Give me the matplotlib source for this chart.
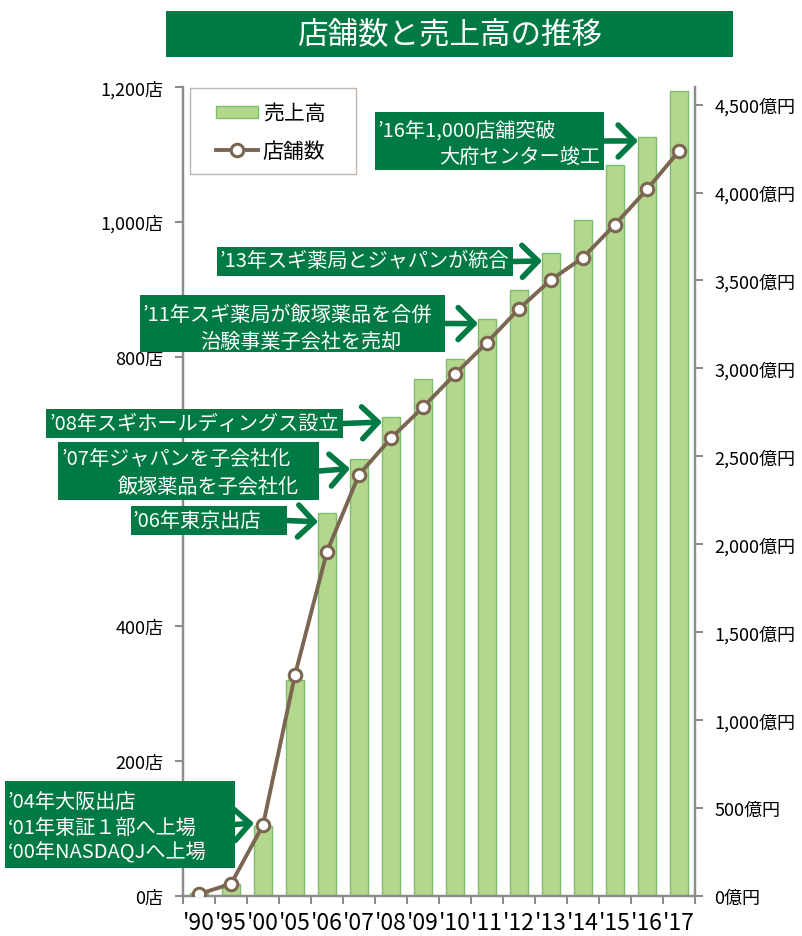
import matplotlib
matplotlib.use('Agg')
import matplotlib.pyplot as plt
from matplotlib.patches import Rectangle, Patch
from matplotlib.lines import Line2D

plt.rcParams['font.family'] = ['Noto Sans CJK JP', 'DejaVu Sans']

W, H = 803, 937
GREEN = '#007A45'
BAR = '#B3D78C'
BAR_EDGE = '#7DBE6E'
LINE = '#7B6651'
AXIS = '#8C8C8C'

# data
years = ["'90", "'95", "'00", "'05", "'06", "'07", "'08", "'09",
         "'10", "'11", "'12", "'13", "'14", "'15", "'16", "'17"]
stores = [3, 18, 105, 328, 511, 625, 679, 725, 774, 821, 871, 914, 947, 996, 1048, 1105]
sales = [15, 68, 397, 1231, 2177, 2484, 2724, 2940, 3054, 3278, 3443, 3658, 3844, 4158, 4317, 4579]

store_ticks = [0, 200, 400, 600, 800, 1000, 1200]
# the 600 label sits behind the '07 box in the original
store_labels = ['0店', '200店', '400店', '', '800店', '1,000店', '1,200店']
sales_ticks = [0, 500, 1000, 1500, 2000, 2500, 3000, 3500, 4000, 4500]

# event boxes: lines (text, left x, centre y) in pixels, box (x0, y0, x1, y1), target (category, stores)
events = [
    ([('’16年1,000店舗突破', 378, 131), ('大府センター竣工', 439, 158)], (375, 113, 604, 171), (14, 1120)),
    ([('’13年スギ薬局とジャパンが統合', 228, 262)], (225, 248, 513, 277), (11, 942)),
    ([('’11年スギ薬局が飯塚薬品を合併', 143, 315), ('治験事業子会社を売却', 200, 342)], (140, 296, 445, 353), (9, 849)),
    ([('’08年スギホールディングス設立', 85, 425)], (82, 410, 343, 439), (6, 703)),
    ([('’07年ジャパンを子会社化', 62, 460), ('飯塚薬品を子会社化', 118, 487)], (58, 443, 319, 501), (5, 634)),
    ([('’06年東京出店', 133, 522)], (131, 507, 287, 536), (4, 555)),
    ([('’04年大阪出店', 8, 802), ('‘01年東証１部へ上場', 8, 828), ('‘00年NASDAQJへ上場', 8, 853)], (5, 782, 235, 869), (2, 108)),
]

fig = plt.figure(figsize=(W / 100, H / 100), dpi=100)
ax = fig.add_axes([183 / W, 1 - 897 / H, 512 / W, 809 / H])
ax2 = ax.twinx()
ax.set_zorder(ax2.get_zorder() + 1)
ax.patch.set_visible(False)

x = list(range(len(years)))
ax2.bar(x, sales, width=0.56, color=BAR, edgecolor=BAR_EDGE, linewidth=1)
ax.plot(x, stores, color=LINE, lw=2.8, marker='o', ms=9, mfc='white',
        mec=LINE, mew=2.2, zorder=4)

ax.set_xlim(-0.5, len(years) - 0.5)
ax.set_ylim(0, 1200)
ax2.set_ylim(0, 4600)

for a in (ax, ax2):
    a.spines['top'].set_visible(False)
    for s in ('left', 'right', 'bottom'):
        a.spines[s].set_color(AXIS)
        a.spines[s].set_linewidth(1.6)

ax.set_xticks(x, years)
ax.set_xticks([i - 0.5 for i in range(len(years) + 1)], minor=True)
ax.tick_params(axis='x', which='major', length=0, pad=11, labelsize=16.5)
ax.tick_params(axis='x', which='minor', length=6, width=1.5, color=AXIS)

ax.set_yticks(store_ticks, store_labels)
ax.tick_params(axis='y', length=6, width=1.5, color=AXIS, labelsize=13, pad=8)
ax2.set_yticks(sales_ticks, [f'{v:,}億円' for v in sales_ticks])
ax2.tick_params(axis='y', length=6, width=1.5, color=AXIS, labelsize=13, pad=8)


def fig_rect(x0, y0, x1, y1, **kw):
    r = Rectangle((x0 / W, 1 - y1 / H), (x1 - x0) / W, (y1 - y0) / H,
                  transform=fig.transFigure, **kw)
    fig.add_artist(r)
    return r


# title
fig_rect(166, 12, 733, 58, facecolor=GREEN, edgecolor='none', zorder=5)
fig.text(449.5 / W, 1 - 35 / H, '店舗数と売上高の推移', color='white', fontsize=22,
         ha='center', va='center', zorder=6)

# legend
fig_rect(190, 89, 356, 175, facecolor='none', edgecolor='#BEB6AE', lw=1, zorder=5)
handles = [Patch(facecolor=BAR, edgecolor=BAR_EDGE, lw=1),
           Line2D([], [], color=LINE, lw=2.8, marker='o', ms=9, mfc='white', mec=LINE, mew=2.2)]
ax.legend(handles, ['売上高', '店舗数'], loc='center left',
          bbox_to_anchor=(216 / W, 1 - 133 / H), bbox_transform=fig.transFigure,
          frameon=False, fontsize=15, handlelength=2.0, handleheight=0.5,
          handletextpad=0.25, labelspacing=0.75, borderpad=0, borderaxespad=0)

# event boxes and arrows
renderer = fig.canvas.get_renderer()
for lines, (x0, y0, x1, y1), (ti, tv) in events:
    rect = fig_rect(x0, y0, x1, y1, facecolor=GREEN, edgecolor='none', zorder=5)
    texts = [fig.text(lx / W, 1 - ly / H, s, color='white', fontsize=14.5,
                      ha='left', va='center', zorder=6) for s, lx, ly in lines]
    right = max(t.get_window_extent(renderer).x1 for t in texts)
    over = right + 4 - x1
    if over > 0:
        for t in texts:
            px, py = t.get_position()
            t.set_position((px - over / W, py))
        rect.set_x(rect.get_x() - over / W)
        rect.set_width(rect.get_width() + over / W)
    yc = (y0 + y1) / 2
    ax.annotate('', xy=(ti - 0.28, tv), xytext=(x1, H - yc), textcoords='figure pixels',
                arrowprops=dict(arrowstyle='->,head_length=1.15,head_width=1.15',
                                lw=4, color=GREEN, shrinkA=0, shrinkB=0,
                                capstyle='round', joinstyle='round'),
                annotation_clip=False)

fig.savefig('out.png', dpi=100)
